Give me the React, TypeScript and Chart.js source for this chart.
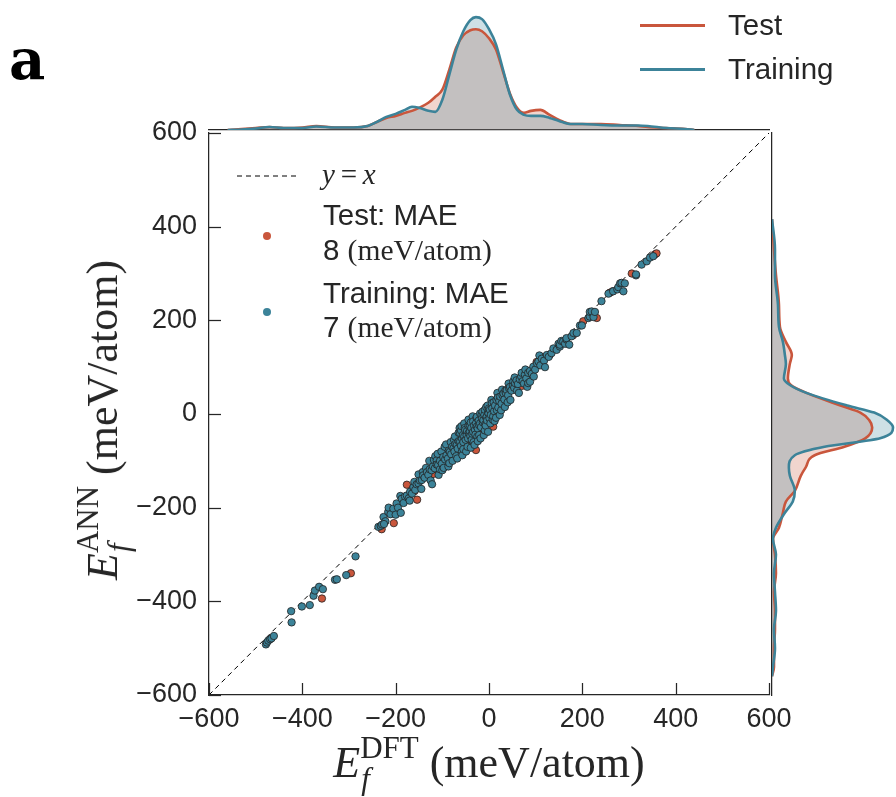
import React, { useEffect, useRef } from 'react';
import { Chart, registerables } from 'chart.js';

Chart.register(...registerables);

// ---------- colours ----------
const TEST_COLOR = '#c9563c';
const TRAIN_COLOR = '#3c8399';
const TEST_FILL = 'rgba(201,86,60,0.25)';
const TRAIN_FILL = 'rgba(60,131,153,0.25)';
const AXIS_COLOR = '#262626';
const EDGE_COLOR = '#222222';

// ---------- main axis ----------
const axisTicks = [-600, -400, -200, 0, 200, 400, 600];
const identityLine = [-600, 600];

// ---------- scatter data: [E_DFT, E_ANN] in meV/atom ----------
const trainingPoints: [number, number][] = [
  [-478, -492], [-476, -488], [-473, -484], [-469, -481], [-466, -479], [-461, -474],
  [-423, -445], [-424, -421], [-401, -411], [-384, -408],
  [-376, -388], [-373, -377], [-364, -369], [-356, -374],
  [-330, -354], [-326, -353], [-306, -344], [-286, -304],
  [-237, -241], [-232, -239], [-229, -236], [-226, -220], [-222, -229], [-225, -235],
  [-216, -209], [-215, -200], [-211, -214], [-205, -202], [-200, -215], [-198, -191], [-195, -200],
  [-190, -175], [-189, -211], [-187, -181], [-183, -190], [-180, -176], [-176, -174], [-172, -180],
  [-170, -185], [-169, -166], [-165, -170], [-162, -156], [-160, -145], [-158, -162], [-155, -150],
  [-151, -148], [-151, -129], [-148, -142], [-145, -160], [-144, -141], [-142, -124], [-141, -131],
  [-138, -136], [-135, -115], [-133, -124], [-130, -130], [-128, -100], [-127, -118], [-125, -142],
  [-123, -120], [-122, -150], [-120, -112], [-118, -98], [-116, -116], [-115, -90], [-112, -99],
  [-112, -108], [-110, -85], [-109, -109], [-108, -130], [-105, -100], [-105, -118], [-102, -80],
  [-101, -106], [-100, -120], [-98, -92], [-97, -115], [-95, -70], [-94, -97], [-92, -65],
  [-91, -88], [-88, -95], [-87, -112], [-86, -78], [-85, -105], [-84, -81], [-82, -60], [-81, -86],
  [-79, -70], [-78, -100], [-76, -73], [-75, -55], [-74, -80], [-73, -48], [-72, -64], [-70, -90],
  [-69, -66], [-68, -95], [-67, -74], [-65, -58], [-65, -40], [-63, -30], [-62, -59], [-62, -41],
  [-60, -68], [-60, -35], [-59, -26], [-58, -52], [-58, -80], [-57, -88], [-56, -45], [-55, -60],
  [-55, -75], [-53, -48], [-53, -20], [-52, -30], [-51, -34], [-50, -55], [-49, -80], [-48, -45],
  [-47, -36], [-46, -70], [-45, -52], [-44, -25], [-44, -12], [-43, -40], [-41, -38], [-41, -24],
  [-40, -47], [-39, -18], [-39, -72], [-38, -30], [-37, -55], [-36, -42], [-35, -5], [-34, -38],
  [-34, -16], [-33, -60], [-32, -25], [-31, -66], [-30, -34], [-29, -44], [-28, -20], [-27, -8],
  [-26, -27], [-26, -6], [-25, -48], [-24, -31], [-24, -58], [-22, -14], [-21, -24], [-21, -45],
  [-19, -20], [-19, 1], [-18, -52], [-17, -28], [-16, -2], [-15, -10], [-14, 5], [-13, -18],
  [-12, -13], [-11, -45], [-10, -2], [-9, 9], [-9, -35], [-8, -22], [-7, -25], [-6, -8], [-6, 15],
  [-5, -6], [-4, -14], [-3, 18], [-2, 4], [-2, -38], [-1, 1], [0, 12], [1, -9], [2, 9], [3, -20],
  [4, -2], [5, 30], [6, 23], [7, 12], [8, -12], [9, -5], [10, 25], [11, 6], [12, -15], [13, 18],
  [15, -8], [16, 30], [17, 8], [18, 45], [19, 35], [20, 14], [22, 28], [23, -2], [24, 37], [26, 8],
  [27, 22], [28, 52], [29, 40], [31, 44], [33, 31], [34, 15], [35, 50], [36, 45], [38, 51], [40, 25],
  [41, 40], [42, 65], [43, 55], [45, 58], [46, 30], [48, 50], [51, 62], [52, 70], [54, 56], [55, 78],
  [56, 66], [59, 72], [60, 50], [62, 64], [64, 45], [66, 74], [69, 80], [70, 88], [72, 70], [75, 65],
  [77, 84], [78, 95], [80, 76], [82, 58], [84, 66], [84, 88], [88, 69], [88, 92], [92, 86], [95, 101],
  [96, 80], [99, 95], [103, 108], [106, 112], [108, 125], [110, 104], [113, 118], [118, 114],
  [120, 100], [124, 126], [128, 122], [134, 130], [138, 140], [145, 137], [149, 150], [152, 144],
  [152, 148], [155, 156], [159, 155], [163, 150], [166, 159], [166, 162], [172, 148], [177, 166],
  [181, 173], [188, 173], [195, 189], [199, 189], [213, 205], [216, 208], [216, 218], [220, 219],
  [224, 207], [227, 218], [241, 241], [256, 257], [266, 262], [275, 266], [277, 271], [281, 279],
  [284, 280], [288, 262], [291, 279], [315, 296], [315, 298], [327, 319], [338, 326], [345, 334],
  [352, 337],
];

const testPoints: [number, number][] = [
  [-358, -394], [-296, -340], [-230, -246], [-204, -233], [-176, -151], [-160, -165], [-154, -183],
  [-140, -135], [-120, -128], [-110, -118], [-100, -92], [-90, -96], [-80, -72], [-70, -62],
  [-66, -50], [-60, -75], [-50, -62], [-45, -38], [-35, -55], [-28, -77], [-20, -12], [-15, -40],
  [-10, -30], [-9, 5], [2, 16], [5, -12], [9, -27], [15, 5], [25, 30], [30, 18], [40, 35],
  [60, 68], [70, 60], [102, 111], [116, 121], [130, 126], [180, 168], [202, 198], [231, 205],
  [259, 259], [265, 262], [306, 300], [356, 341], [359, 343],
];

// ---------- top marginal KDE (E_DFT), density in arbitrary units ----------
const topGrid = [-560, -530, -500, -470, -440, -400, -370, -330, -290, -260, -240, -220, -200, -180,
  -165, -150, -130, -115, -100, -85, -70, -55, -40, -28, -15, 0, 15, 30, 45, 60, 75, 90, 110, 130,
  150, 175, 200, 240, 280, 320, 340, 380, 420, 440];
const topTraining = [0, 0.5, 1.5, 3, 2, 2, 3.5, 2.5, 2.5, 4, 8, 13, 16, 20, 23, 22, 19, 18, 30, 55,
  80, 98, 109, 112, 110, 100, 85, 60, 35, 20, 15, 14, 14, 12, 9, 6, 6, 5, 4.5, 4.5, 4, 2, 1, 0];
const topTest = [0, 1, 2, 3, 2, 2.5, 4, 2.5, 2.5, 4, 8, 12, 14, 17, 19, 22, 27, 33, 40, 60, 82, 94,
  99, 100, 98, 91, 80, 58, 36, 22, 17, 19, 20, 15, 10, 6, 6, 6, 5, 4, 3, 2, 1, 0];

// ---------- right marginal KDE (E_ANN), density in arbitrary units ----------
const rightGrid = [416, 352, 297, 234, 186, 154, 126, 107, 76, 62, 44, 18, 3, -13, -29, -52, -70,
  -88, -114, -132, -164, -187, -211, -243, -267, -300, -340, -380, -420, -460, -500, -540, -560];
const rightTraining = [0, 3, 3, 6, 7, 11, 13, 14, 12, 18, 36, 76, 103, 116, 122, 109, 53, 23, 17,
  18, 23, 21, 13, 4, 1, 4, 2, 3, 4, 2, 3, 1, 0];
const rightTest = [0, 2, 4, 7, 8, 14, 20, 18, 16, 19, 36, 69, 89, 98, 101, 94, 73, 43, 34, 29, 23,
  14, 11, 7, 1, 3, 4, 2, 3, 3, 2, 2, 0];

const fmt = (v: number | string) => {
  const n = Number(v);
  return n < 0 ? '\u2212' + Math.abs(n) : String(n);
};

const inwardTicks = {
  id: 'inwardTicks',
  afterDraw(chart: any) {
    const { ctx, chartArea, scales } = chart;
    ctx.save();
    ctx.strokeStyle = AXIS_COLOR;
    ctx.lineWidth = 1.25;
    const len = 12;
    scales.x.ticks.forEach((_t: any, i: number) => {
      const px = Math.round(scales.x.getPixelForTick(i)) + 0.5;
      ctx.beginPath();
      ctx.moveTo(px, chartArea.bottom);
      ctx.lineTo(px, chartArea.bottom - len);
      ctx.stroke();
    });
    scales.y.ticks.forEach((_t: any, i: number) => {
      const py = Math.round(scales.y.getPixelForTick(i)) + 0.5;
      ctx.beginPath();
      ctx.moveTo(chartArea.left, py);
      ctx.lineTo(chartArea.left + len, py);
      ctx.stroke();
    });
    ctx.restore();
  },
};

const serif = "'Liberation Serif', 'Times New Roman', serif";
const sans = "'Liberation Sans', Arial, sans-serif";

function AxisTitle({ sup }: { sup: string }) {
  return (
    <span style={{ fontFamily: serif, fontSize: 44, color: AXIS_COLOR, whiteSpace: 'nowrap', lineHeight: 1 }}>
      <i>E</i>
      <span style={{ position: 'relative', display: 'inline-block' }}>
        <span style={{ fontSize: 31, position: 'relative', top: -19 }}>{sup}</span>
        <i style={{ position: 'absolute', left: 1, top: 22, fontSize: 31 }}>f</i>
      </span>
      {' (meV/atom)'}
    </span>
  );
}

export default function App() {
  const mainRef = useRef<HTMLCanvasElement>(null);
  const topRef = useRef<HTMLCanvasElement>(null);
  const rightRef = useRef<HTMLCanvasElement>(null);

  useEffect(() => {
    Chart.defaults.font.family = sans;
    const setTicks = (s: any) => {
      s.ticks = axisTicks.map((v) => ({ value: v }));
    };
    const main = new Chart(mainRef.current!, {
      type: 'scatter',
      data: {
        datasets: [
          {
            label: 'Training',
            data: trainingPoints.map(([x, y]) => ({ x, y })),
            backgroundColor: TRAIN_COLOR,
            borderColor: EDGE_COLOR,
            borderWidth: 0.8,
            pointRadius: 3.7,
            order: 1,
          },
          {
            label: 'Test',
            data: testPoints.map(([x, y]) => ({ x, y })),
            backgroundColor: TEST_COLOR,
            borderColor: EDGE_COLOR,
            borderWidth: 0.8,
            pointRadius: 3.7,
            order: 2,
          },
          {
            type: 'line',
            label: 'y = x',
            data: identityLine.map((v) => ({ x: v, y: v })),
            borderColor: '#000000',
            borderWidth: 1,
            borderDash: [5, 4],
            pointRadius: 0,
            order: 3,
          } as any,
        ],
      },
      options: {
        animation: false,
        responsive: false,
        layout: { padding: { top: 133, right: 127, left: 0, bottom: 0 } },
        plugins: { legend: { display: false }, tooltip: { enabled: false } },
        scales: {
          x: {
            type: 'linear',
            min: -600,
            max: 600,
            afterBuildTicks: setTicks,
            ticks: { font: { family: sans, size: 27 }, color: AXIS_COLOR, padding: 8, callback: fmt, maxRotation: 0 },
            grid: { display: false, drawTicks: false },
            border: { display: true, color: AXIS_COLOR, width: 1.25 },
            afterFit: (s: any) => { s.height = 102; },
          },
          y: {
            type: 'linear',
            min: -600,
            max: 600,
            afterBuildTicks: setTicks,
            ticks: { font: { family: sans, size: 27 }, color: AXIS_COLOR, padding: 12, callback: fmt },
            grid: { display: false, drawTicks: false },
            border: { display: true, color: AXIS_COLOR, width: 1.25 },
            afterFit: (s: any) => { s.width = 209; },
          },
        },
      } as any,
      plugins: [inwardTicks],
    });

    const top = new Chart(topRef.current!, {
      type: 'line',
      data: {
        datasets: [
          {
            label: 'Training',
            data: topGrid.map((x, i) => ({ x, y: topTraining[i] })),
            borderColor: TRAIN_COLOR,
            backgroundColor: TRAIN_FILL,
            fill: 'origin',
            borderWidth: 2.6,
            pointRadius: 0,
            cubicInterpolationMode: 'monotone',
          },
          {
            label: 'Test',
            data: topGrid.map((x, i) => ({ x, y: topTest[i] })),
            borderColor: TEST_COLOR,
            backgroundColor: TEST_FILL,
            fill: 'origin',
            borderWidth: 2.6,
            pointRadius: 0,
            cubicInterpolationMode: 'monotone',
          },
        ],
      },
      options: {
        animation: false,
        responsive: false,
        layout: { padding: { left: 9, right: 11, top: 0, bottom: 4 } },
        plugins: { legend: { display: false }, tooltip: { enabled: false }, filler: { drawTime: 'beforeDatasetsDraw' } },
        scales: {
          x: {
            type: 'linear',
            min: -600,
            max: 600,
            ticks: { display: false },
            grid: { display: false, drawTicks: false },
            border: { display: true, color: AXIS_COLOR, width: 1.25 },
            afterFit: (s: any) => { s.height = 0; },
          },
          y: { type: 'linear', min: 0, max: 129, display: false },
        },
      } as any,
    });

    const right = new Chart(rightRef.current!, {
      type: 'line',
      data: {
        datasets: [
          {
            label: 'Training',
            data: rightGrid.map((y, i) => ({ x: rightTraining[i], y })),
            borderColor: TRAIN_COLOR,
            backgroundColor: TRAIN_FILL,
            fill: 'origin',
            borderWidth: 2.6,
            pointRadius: 0,
            cubicInterpolationMode: 'monotone',
          },
          {
            label: 'Test',
            data: rightGrid.map((y, i) => ({ x: rightTest[i], y })),
            borderColor: TEST_COLOR,
            backgroundColor: TEST_FILL,
            fill: 'origin',
            borderWidth: 2.6,
            pointRadius: 0,
            cubicInterpolationMode: 'monotone',
          },
        ],
      },
      options: {
        indexAxis: 'y',
        animation: false,
        responsive: false,
        layout: { padding: { left: 4, right: 0, top: 8, bottom: 10 } },
        plugins: { legend: { display: false }, tooltip: { enabled: false }, filler: { drawTime: 'beforeDatasetsDraw' } },
        scales: {
          x: { type: 'linear', min: 0, max: 125, display: false },
          y: {
            type: 'linear',
            position: 'left',
            min: -600,
            max: 600,
            ticks: { display: false },
            grid: { display: false, drawTicks: false },
            border: { display: true, color: AXIS_COLOR, width: 1.25 },
            afterFit: (s: any) => { s.width = 0; },
          },
        },
      } as any,
    });

    return () => {
      main.destroy();
      top.destroy();
      right.destroy();
    };
  }, []);

  const abs = (o: React.CSSProperties): React.CSSProperties => ({ position: 'absolute', ...o });
  const legendText: React.CSSProperties = { fontFamily: sans, fontSize: 29.5, color: AXIS_COLOR, lineHeight: 1, whiteSpace: 'nowrap' };

  return (
    <div style={abs({ left: 0, top: 0, width: 896, height: 797, background: '#ffffff', overflow: 'hidden' })}>
      <canvas ref={mainRef} width={896} height={797} style={abs({ left: 0, top: 0, width: 896, height: 797 })} />
      <canvas ref={topRef} width={580} height={134} style={abs({ left: 200, top: 0, width: 580, height: 134 })} />
      <canvas ref={rightRef} width={128} height={580} style={abs({ left: 768, top: 125, width: 128, height: 580 })} />

      {/* panel letter */}
      <div style={abs({ left: 9, top: 31, fontFamily: "'DejaVu Serif', serif", fontWeight: 'bold', fontSize: 56, lineHeight: 1, color: '#000' })}>a</div>

      {/* top-right legend */}
      <div style={abs({ left: 640, top: 23.5, width: 65, height: 3, background: TEST_COLOR })} />
      <div style={abs({ left: 728, top: 10, ...legendText })}>Test</div>
      <div style={abs({ left: 640, top: 67.5, width: 65, height: 3, background: TRAIN_COLOR })} />
      <div style={abs({ left: 728, top: 54, ...legendText })}>Training</div>

      {/* in-plot legend */}
      <svg style={abs({ left: 236, top: 170, width: 62, height: 12 })} width={62} height={12}>
        <line x1={1} y1={6} x2={61} y2={6} stroke="#000" strokeWidth={1} strokeDasharray="5 4" />
      </svg>
      <div style={abs({ left: 322, top: 160, fontFamily: serif, fontSize: 29, lineHeight: 1, color: AXIS_COLOR, whiteSpace: 'nowrap' })}>
        <i>y</i>{'\u2009=\u2009'}<i>x</i>
      </div>
      <div style={abs({ left: 263, top: 232, width: 8, height: 8, borderRadius: '50%', background: TEST_COLOR })} />
      <div style={abs({ left: 323, top: 200, ...legendText })}>Test: MAE</div>
      <div style={abs({ left: 323, top: 235, ...legendText })}>
        8 <span style={{ fontFamily: serif }}>(meV/atom)</span>
      </div>
      <div style={abs({ left: 263, top: 308, width: 8, height: 8, borderRadius: '50%', background: TRAIN_COLOR })} />
      <div style={abs({ left: 323, top: 278, ...legendText })}>Training: MAE</div>
      <div style={abs({ left: 323, top: 312, ...legendText })}>
        7 <span style={{ fontFamily: serif }}>(meV/atom)</span>
      </div>

      {/* axis titles */}
      <div style={abs({ left: 489, top: 741, transform: 'translateX(-50%)' })}>
        <AxisTitle sup="DFT" />
      </div>
      <div style={abs({ left: 103, top: 420, transform: 'translate(-50%, -50%) rotate(-90deg)' })}>
        <AxisTitle sup="ANN" />
      </div>
    </div>
  );
}
